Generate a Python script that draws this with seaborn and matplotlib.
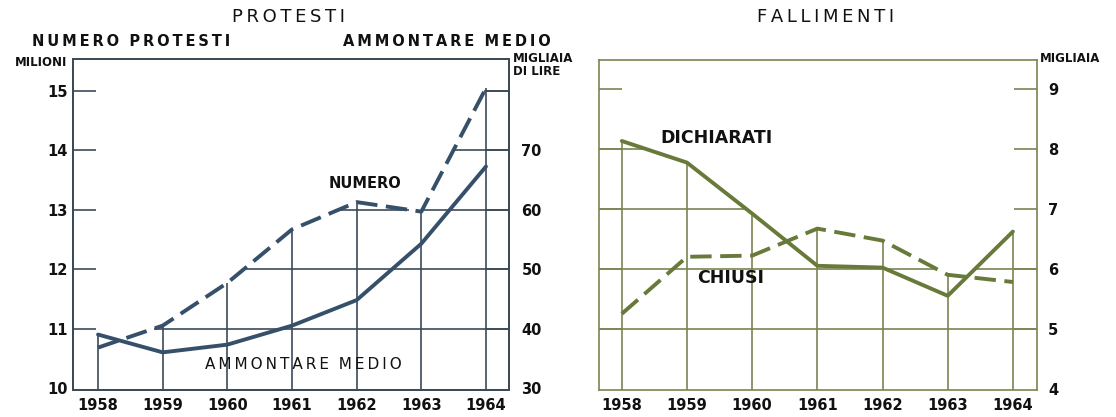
import numpy as np
import pandas as pd
import matplotlib
matplotlib.use('Agg')
import matplotlib.pyplot as plt
import seaborn as sns

# ── data ──
years = [1958, 1959, 1960, 1961, 1962, 1963, 1964]
numero_protesti = [10.68, 11.05, 11.77, 12.67, 13.13, 12.97, 15.05]   # milioni
ammontare_medio = [39.0, 36.0, 37.3, 40.5, 44.8, 54.3, 67.3]          # migliaia di lire
fall_dichiarati = [8.13, 7.77, 6.92, 6.05, 6.02, 5.55, 6.62]           # migliaia
fall_chiusi = [5.25, 6.20, 6.22, 6.67, 6.47, 5.90, 5.78]               # migliaia

left_ticks = [10, 11, 12, 13, 14, 15]
amm_ticks = [30, 40, 50, 60, 70]
fall_ticks = [4, 5, 6, 7, 8, 9]

prot = pd.DataFrame({'anno': years, 'numero': numero_protesti, 'ammontare': ammontare_medio})
fall = pd.DataFrame({'anno': years, 'dichiarati': fall_dichiarati, 'chiusi': fall_chiusi})

sns.set_theme(style='white')
plt.rcParams['font.family'] = ['DejaVu Sans']
plt.rcParams['text.color'] = '#111111'

BLUE = '#36506a'
BLUE_GRID = '#3c4a58'
GREEN = '#687a3a'
GREEN_GRID = '#7b8452'
TS = '\u2009'  # thin space for the letter-spaced lettering


def spaced(s):
    return '  '.join(TS.join(w) for w in s.split(' '))


fig = plt.figure(figsize=(11.16, 4.17), dpi=100)
axL = fig.add_axes([73 / 1116, 27 / 417, 436 / 1116, 331 / 417])
axR = fig.add_axes([599 / 1116, 27 / 417, 438 / 1116, 330 / 417])

XLIM_L = (1957.613, 1964.356)
XLIM_R = (1957.65, 1964.37)


def clipped_grid(ax, series, ticks, xlim, ylim, color, tick_len):
    # grid drawn only below the upper envelope of the curves, plus short end ticks
    x0, x1 = xlim
    fine = np.linspace(x0, x1, 4000)
    env = np.max([np.interp(fine, years, s) for s in series], axis=0)
    for t in ticks:
        above = env >= t
        edges = np.flatnonzero(np.diff(np.r_[0, above.astype(int), 0]))
        for a, b in zip(edges[::2], edges[1::2]):
            ax.hlines(t, fine[a], fine[b - 1], color=color, lw=1.2, zorder=1)
        ax.hlines(t, x0, x0 + tick_len, color=color, lw=1.2, zorder=1)
        ax.hlines(t, x1 - tick_len, x1, color=color, lw=1.2, zorder=1)
    top = np.max(series, axis=0)
    ax.vlines(years, ylim[0], top, color=color, lw=1.2, zorder=1)


# ── PROTESTI ──
ylimL = (9.966, 15.54)
axL.set_xlim(*XLIM_L)
axL.set_ylim(*ylimL)
axA = axL.twinx()
axA.set_ylim(ylimL[0] * 10 - 70, ylimL[1] * 10 - 70)

amm_in_left = (np.array(ammontare_medio) + 70) / 10
clipped_grid(axL, [np.array(numero_protesti), amm_in_left], left_ticks[1:], XLIM_L, ylimL,
             BLUE_GRID, 0.36)

sns.lineplot(data=prot, x='anno', y='numero', ax=axL, color=BLUE, lw=2.8, zorder=3)
axL.lines[-1].set_dashes([5.5, 2.2])
sns.lineplot(data=prot, x='anno', y='ammontare', ax=axA, color=BLUE, lw=2.8, zorder=3)

axL.set_yticks(left_ticks)
axL.set_yticklabels([str(t) for t in left_ticks])
axA.set_yticks(amm_ticks)
axA.set_yticklabels([str(t) for t in amm_ticks])
axL.set_xticks(years)
axL.set_xticklabels([str(y) for y in years])
for a in (axL, axA):
    a.set_xlabel('')
    a.set_ylabel('')
    a.tick_params(length=0, labelsize=10.5, labelcolor='#111111')
    for s in a.spines.values():
        s.set_color(BLUE_GRID)
        s.set_linewidth(1.3)
axL.tick_params(axis='y', pad=4)
axL.tick_params(axis='x', pad=6)
axA.tick_params(axis='y', pad=9)
for lab in axL.get_xticklabels() + axL.get_yticklabels() + axA.get_yticklabels():
    lab.set_fontweight('bold')

axL.text(1962.13, 13.45, 'NUMERO', ha='center', va='center', fontsize=10.5, fontweight='bold')
axL.text(1961.17, 10.39, spaced('AMMONTARE MEDIO'), ha='center', va='center', fontsize=11)

# ── FALLIMENTI ──
ylimR = (3.98, 9.48)
axR.set_xlim(*XLIM_R)
axR.set_ylim(*ylimR)
clipped_grid(axR, [np.array(fall_dichiarati), np.array(fall_chiusi)], fall_ticks[1:],
             XLIM_R, ylimR, GREEN_GRID, 0.36)

sns.lineplot(data=fall, x='anno', y='dichiarati', ax=axR, color=GREEN, lw=2.8, zorder=3)
sns.lineplot(data=fall, x='anno', y='chiusi', ax=axR, color=GREEN, lw=2.8, zorder=3)
axR.lines[-1].set_dashes([5.5, 2.2])

axR.yaxis.tick_right()
axR.set_yticks(fall_ticks)
axR.set_yticklabels([str(t) for t in fall_ticks])
axR.set_xticks(years)
axR.set_xticklabels([str(y) for y in years])
axR.set_xlabel('')
axR.set_ylabel('')
axR.tick_params(length=0, labelsize=10.5, labelcolor='#111111')
axR.tick_params(axis='y', pad=8)
axR.tick_params(axis='x', pad=6)
for s in axR.spines.values():
    s.set_color(GREEN_GRID)
    s.set_linewidth(1.2)
for lab in axR.get_xticklabels() + axR.get_yticklabels():
    lab.set_fontweight('bold')

axR.text(1959.46, 8.18, 'DICHIARATI', ha='center', va='center', fontsize=12.5, fontweight='bold')
axR.text(1959.67, 5.85, 'CHIUSI', ha='center', va='center', fontsize=12.5, fontweight='bold')

# ── header texts ──
fig.text(288 / 1116, 1 - 17 / 417, spaced('PROTESTI'), ha='center', va='center', fontsize=13)
fig.text(32 / 1116, 1 - 42 / 417, spaced('NUMERO PROTESTI'), ha='left', va='center',
         fontsize=10.5, fontweight='bold')
fig.text(551 / 1116, 1 - 42 / 417, spaced('AMMONTARE MEDIO'), ha='right', va='center',
         fontsize=10.5, fontweight='bold')
fig.text(67 / 1116, 1 - 63 / 417, 'MILIONI', ha='right', va='center', fontsize=8.5, fontweight='bold')
fig.text(513 / 1116, 1 - 65 / 417, 'MIGLIAIA\nDI LIRE', ha='left', va='center', fontsize=8.5,
         fontweight='bold', linespacing=0.95)
fig.text(826 / 1116, 1 - 17 / 417, spaced('FALLIMENTI'), ha='center', va='center', fontsize=13)
fig.text(1040 / 1116, 1 - 58 / 417, 'MIGLIAIA', ha='left', va='center', fontsize=8.5, fontweight='bold')

fig.savefig('out.png', dpi=100, facecolor='white')
